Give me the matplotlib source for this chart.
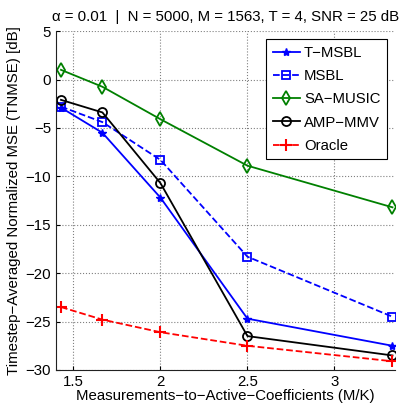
import matplotlib
matplotlib.use("Agg")
import matplotlib.pyplot as plt

plt.rcParams['font.family'] = ['Liberation Sans', 'DejaVu Sans']

x = [10/7, 5/3, 2.0, 2.5, 10/3]
t_msbl = [-2.9, -5.5, -12.2, -24.7, -27.5]
msbl = [-2.8, -4.4, -8.3, -18.3, -24.5]
sa_music = [1.0, -0.75, -4.1, -8.9, -13.2]
amp_mmv = [-2.1, -3.4, -10.7, -26.5, -28.5]
oracle = [-23.5, -24.8, -26.1, -27.5, -29.1]

xticks = [1.5, 2, 2.5, 3]
yticks = [5, 0, -5, -10, -15, -20, -25, -30]

fig = plt.figure(figsize=(4.01, 4.04), dpi=100)
ax = fig.add_axes([0.1397, 0.0842, 0.8463, 0.8388])

ax.plot(x, t_msbl, '-', color='#0000ff', marker='*', ms=6, lw=1.3, label='T\u2212MSBL')
ax.plot(x, msbl, '--', color='#0000ff', marker='s', ms=6, mfc='none', mew=1.3, lw=1.3, label='MSBL')
ax.plot(x, sa_music, '-', color='#008000', marker='d', ms=7, mfc='none', mew=1.3, lw=1.3, label='SA\u2212MUSIC')
ax.plot(x, amp_mmv, '-', color='black', marker='o', ms=6.5, mfc='none', mew=1.3, lw=1.3, label='AMP\u2212MMV')
ax.plot(x, oracle, '--', color='#ff0000', marker='+', ms=8, mew=1.5, lw=1.3, label='Oracle')

ax.set_xlim(1.4, 3.35)
ax.set_ylim(-30, 5)
ax.set_xticks(xticks)
ax.set_xticklabels(['1.5', '2', '2.5', '3'])
ax.set_yticks(yticks)
ax.set_yticklabels([str(v).replace('-', '\u2212') for v in yticks])
ax.tick_params(direction='in', labelsize=10.8, length=3, width=0.8)
ax.grid(True, linestyle=':', color='#808080', lw=0.8)
ax.spines['top'].set_visible(False)
ax.spines['right'].set_visible(False)
ax.spines['left'].set_color('#222222')
ax.spines['bottom'].set_color('#222222')

ax.set_title('\u03b1 = 0.01  |  N = 5000, M = 1563, T = 4, SNR = 25 dB', fontsize=10.8, pad=7)
ax.set_xlabel('Measurements\u2212to\u2212Active\u2212Coefficients (M/K)', fontsize=10.8, labelpad=0)
ax.set_ylabel('Timestep\u2212Averaged Normalized MSE (TNMSE) [dB]', fontsize=10.8, labelpad=3)

leg = ax.legend(loc='upper right', bbox_to_anchor=(0.976, 0.976), borderaxespad=0,
                fontsize=10.7, fancybox=False,
                edgecolor='black', framealpha=1, handlelength=1.8, borderpad=0.45,
                labelspacing=0.62, handletextpad=0.3)
leg.get_frame().set_linewidth(0.8)

fig.savefig('out.png', dpi=100)
